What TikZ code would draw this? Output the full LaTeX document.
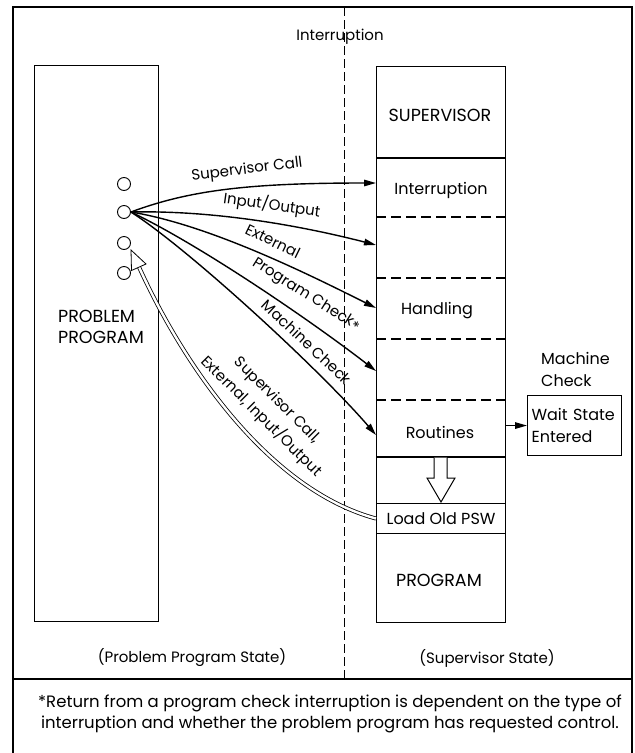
\documentclass[tikz,border=0pt]{standalone}
\usepackage{fontspec}
\setmainfont{Poppins}
\usetikzlibrary{arrows.meta}

\begin{document}
\begin{tikzpicture}[x=1pt,y=-1pt,
  frame/.style={line width=1.4pt},
  box/.style={draw, line width=1.1pt, inner sep=0pt},
  cellsep/.style={line width=1.1pt, dash pattern=on 10pt off 5pt},
  statesep/.style={line width=0.8pt, dash pattern=on 9pt off 4pt},
  flow/.style={line width=1.4pt, -{Triangle[length=12pt,width=6.5pt]}},
  lbl/.style={font=\fontsize{15}{21}\selectfont, inner sep=0pt},
  cell/.style={font=\fontsize{16}{22}\selectfont, inner sep=0pt},
  caps/.style={font=\fontsize{17.5}{20.5}\selectfont, inner sep=0pt},
  fnote/.style={font=\fontsize{16.5}{21}\selectfont, inner sep=0pt},
  port/.style={circle, draw, line width=0.9pt, minimum size=13pt, inner sep=0pt},
]
\useasboundingbox (0,0) rectangle (635,753);

% outer frame, footnote divider and state boundary
\draw[frame] (13,753) -- (13,7) -- (632,7) -- (632,753);
\draw[frame] (13,679) -- (632,679);
\draw[statesep] (344,7) -- (344,679);
\node[lbl] (intr) at (340,37) {Interruption};

% problem program
\node[box, anchor=north west, minimum width=124pt, minimum height=556pt] (pp) at (34,65) {};
\node[caps, align=left, anchor=west] (ppt) at (58,327) {PROBLEM\\PROGRAM};
\node[port] (c1) at (124,184) {};
\node[port] (c2) at (124,212) {};
\node[port] (c3) at (124,243) {};
\node[port] (c4) at (124,273) {};

% supervisor column
\node[box, anchor=north west, minimum width=129pt, minimum height=556pt] (sv) at (376,66) {};
\draw[line width=1.1pt] (376,158) -- (505,158);
\draw[cellsep] (376,217) -- (505,217);
\draw[cellsep] (376,278) -- (505,278);
\draw[cellsep] (376,339) -- (505,339);
\draw[cellsep] (376,400) -- (505,400);
\draw[line width=1.1pt] (376,457) -- (505,457);
\node[box, anchor=north west, minimum width=129pt, minimum height=30pt] (lop) at (376,503) {};
\node[cell] at (lop.center) {Load Old PSW};
\node[caps] (s1) at (440,115) {SUPERVISOR};
\node[cell] (s2) at (441,190) {Interruption};
\node[cell] (s3) at (437,311) {Handling};
\node[cell] (s4) at (440,432) {Routines};
\node[caps] (s5) at (439,580) {PROGRAM};

% hollow arrow from the routines to the PSW load
\draw[line width=1pt, fill=white] (434,457.5) -- (434,478) -- (427,478) -- (441,502) -- (455,478) -- (447,478) -- (447,457.5);

% machine check exit
\node[cell] (mc) [align=left, anchor=west] at (541,369) {Machine\\Check};
\node[box, anchor=north west, text width=86pt, minimum height=60pt, inner sep=4pt, align=left, font=\fontsize{16}{22}\selectfont] (ws) at (527,395) {Wait State\\Entered};
\draw[flow] (sv.east |- ws.west) -- (ws.west);

% interruption paths into the supervisor
\coordinate (t1) at (376,183);
\coordinate (t2) at (376,245);
\coordinate (t3) at (376,308);
\coordinate (t4) at (376,371);
\coordinate (t5) at (376,435);
\draw[flow] (c2.east) .. controls (190,190) and (250,183) .. (t1);
\draw[flow] (c2.east) .. controls (220,210) and (310,228) .. (t2);
\draw[flow] (c2.east) .. controls (210,225) and (310,275) .. (t3);
\draw[flow] (c2.east) .. controls (200,245) and (310,320) .. (t4);
\draw[flow] (c2.east) .. controls (190,250) and (320,370) .. (t5);

\node[lbl, rotate=7] at (247,170) {Supervisor Call};
\node[lbl, rotate=-8] at (272,205) {Input/Output};
\node[lbl, rotate=-26] at (273,241) {External};
\node[lbl, rotate=-32] at (306,295) {Program Check\raisebox{-3pt}{*}};
\node[lbl, rotate=-43] at (307,342) {Machine Check};

% return path to the problem program
\coordinate (rb) at (139,267);
\coordinate (rt) at (131,250);
\coordinate (rl) at (131.5,270.5);
\coordinate (rr) at (146,264);
\draw[line width=0.8pt, double=white, double distance=2.4pt] (lop.west) .. controls (270,490) and (185,368) .. (rb);
\draw[line width=0.8pt, fill=white] (rl) -- (rt) -- (rr) -- cycle;
\node[lbl, rotate=-45, align=center, font=\fontsize{15}{23}\selectfont] (ret) at (269,409) {Supervisor Call,\\External, Input/Output};

% state captions and footnote
\node[lbl] (pst) at (192,658) {(Problem Program State)};
\node[lbl] (sst) at (487,658) {(Supervisor State)};
\node[fnote, align=center] (fn) at (330,714) {*Return from a program check interruption is dependent on the type of\\interruption and whether the problem program has requested control.};
\end{tikzpicture}
\end{document}
